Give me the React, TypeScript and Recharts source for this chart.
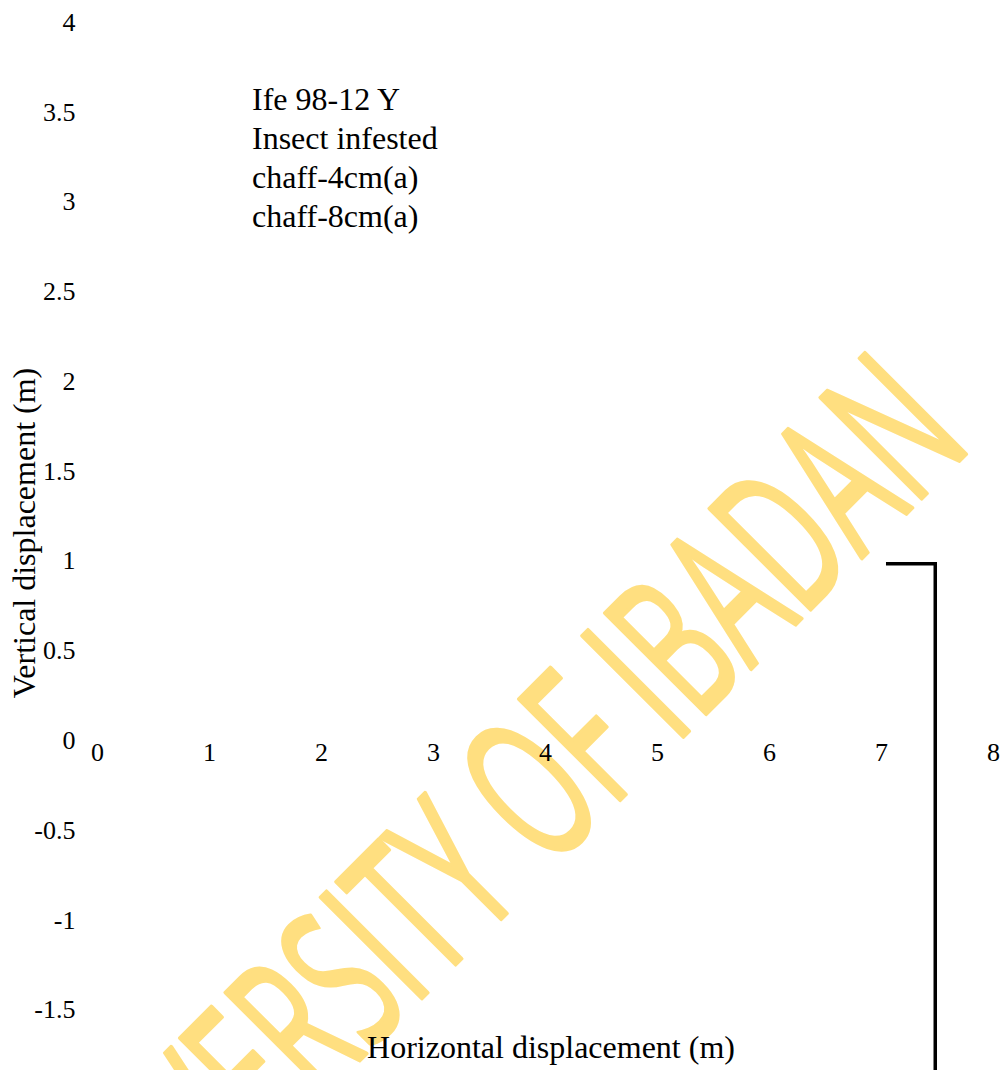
import React from 'react';
import {
  LineChart,
  Line,
  XAxis,
  YAxis,
  ReferenceDot,
  Customized,
} from 'recharts';

// visible trajectory (m)
const trajX = [7.04, 7.48, 7.48];
const trajY = [0.98, 0.98, -2.0];

const xTicks = [0, 1, 2, 3, 4, 5, 6, 7, 8];
const yTicks = [-2, -1.5, -1, -0.5, 0, 0.5, 1, 1.5, 2, 2.5, 3, 3.5, 4];

const legendLabels = ['Ife 98-12 Y', 'Insect infested', 'chaff-4cm(a)', 'chaff-8cm(a)'];

const xTitle = 'Horizontal displacement (m)';
const yTitle = 'Vertical displacement (m)';
const watermark = 'UNIVERSITY OF IBADAN';

const serif = "'Liberation Serif', 'Times New Roman', serif";

const data = trajX.map((x, i) => ({ x, y: trajY[i] }));

const Watermark = () => (
  <text
    x={0}
    y={0}
    transform="translate(80,1340) rotate(-45)"
    fontFamily="'Open Sans', sans-serif"
    fontSize={200}
    fontWeight={400}
    fill="#FFDF80"
    stroke="#FFDF80"
    strokeWidth={4}
    strokeLinejoin="round"
    textLength={1265}
    lengthAdjust="spacingAndGlyphs"
  >
    {watermark}
  </text>
);

const Labels = () => (
  <g fontFamily={serif} fill="#000">
    {legendLabels.map((l, i) => (
      <text key={l} x={252} y={110 + i * 39} fontSize={32}>
        {l}
      </text>
    ))}
    <text x={551} y={1058} fontSize={32} textAnchor="middle">
      {xTitle}
    </text>
    <text transform="translate(35,533) rotate(-90)" fontSize={32} textAnchor="middle">
      {yTitle}
    </text>
  </g>
);

const XTickAtZero = (props: any) => (
  <text x={props.cx} y={props.cy + 21} textAnchor="middle" fontSize={26} fontFamily={serif} fill="#000">
    {props.label}
  </text>
);

export default function App() {
  return (
    <div style={{ position: 'absolute', left: 0, top: 0, width: 1007, height: 1150, background: '#fff' }}>
      <LineChart
        width={1007}
        height={1150}
        data={data}
        margin={{ top: 21.5, right: 13.5, left: 7.5, bottom: 51 }}
      >
        <Customized component={Watermark} />
        <XAxis type="number" dataKey="x" domain={[0, 8]} ticks={xTicks} hide />
        <YAxis
          type="number"
          domain={[-2, 4]}
          ticks={yTicks}
          width={90}
          axisLine={false}
          tickLine={false}
          tickSize={0}
          tickMargin={22}
          tick={{ fontSize: 26, fill: '#000', fontFamily: serif }}
        />
        {xTicks.map((v) => (
          <ReferenceDot
            key={v}
            x={v}
            y={0}
            r={0}
            shape={(p: any) => <XTickAtZero {...p} label={String(v)} />}
          />
        ))}
        <Line
          type="linear"
          dataKey="y"
          stroke="#000"
          strokeWidth={3.5}
          dot={false}
          isAnimationActive={false}
        />
        <Customized component={Labels} />
      </LineChart>
    </div>
  );
}
